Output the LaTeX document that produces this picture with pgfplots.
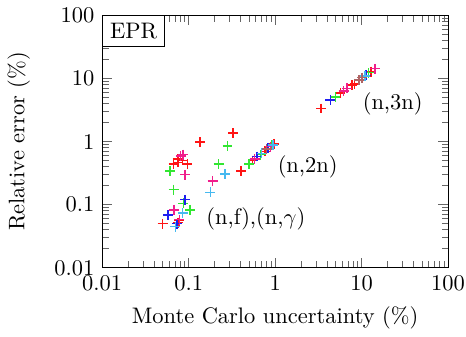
\documentclass[border=0pt]{standalone}
\usepackage{pgfplots}
\pgfplotsset{compat=1.18}
\definecolor{cred}{RGB}{255,20,20}
\definecolor{cgreen}{RGB}{50,230,50}
\definecolor{cblue}{RGB}{30,30,240}
\definecolor{cpink}{RGB}{240,30,140}
\definecolor{ccyan}{RGB}{70,185,240}
\definecolor{cbrown}{RGB}{175,100,100}
\begin{document}
\begin{tikzpicture}
\begin{axis}[
  scale only axis,
  width=154pt, height=112.5pt,
  xmode=log, ymode=log,
  xmin=0.01, xmax=100, ymin=0.01, ymax=100,
  xtick={0.01,0.1,1,10,100},
  ytick={0.01,0.1,1,10,100},
  xticklabels={0.01,0.1,1,10,100},
  yticklabels={0.01,0.1,1,10,100},
  every tick/.style={black!60},
  xlabel={Monte Carlo uncertainty (\%)},
  ylabel={Relative error (\%)},
  ylabel shift=4pt,
  clip=false,
  every axis plot/.append style={only marks, mark=+, mark size=2.2pt, line width=0.65pt},
]
% red
\addplot[cred] coordinates {
(0.050,0.050) (0.075,0.052) (0.078,0.056)
(0.0746,0.527) (0.067,0.44) (0.097,0.44) (0.075,0.47) (0.085,0.50)
(0.136,0.98) (0.327,1.36) (0.403,0.344)
(0.55,0.50) (0.76,0.70) (0.97,0.92)
(3.41,3.33) (5.69,5.82) (7.76,7.87) (8.3,8.2) (12.8,12.8)
};
% green
\addplot[cgreen] coordinates {
(0.061,0.344) (0.067,0.173) (0.087,0.105) (0.104,0.083)
(0.222,0.44) (0.281,0.855)
(0.499,0.44) (0.68,0.62) (0.92,0.88)
(5.0,5.08) (12.1,12.3)
};
% blue
\addplot[cblue] coordinates {
(0.058,0.069) (0.091,0.12) (0.073,0.050)
(0.62,0.58) (0.83,0.78)
(4.36,4.56) (11.3,11.2)
};
% pink
\addplot[cpink] coordinates {
(0.081,0.59) (0.086,0.62) (0.091,0.298) (0.068,0.083) (0.189,0.239) (0.078,0.058)
(0.58,0.53) (0.88,0.83)
(6.8,6.98) (6.2,6.3) (14.3,14.2)
};
% cyan
\addplot[ccyan] coordinates {
(0.178,0.157) (0.262,0.305) (0.085,0.074) (0.070,0.045)
(0.70,0.65) (0.95,0.88)
(11.0,10.9)
};
% brown
\addplot[cbrown] coordinates {
(0.80,0.76) (10.1,10.3) (9.3,9.5)
};
\node[anchor=west, inner sep=0pt] at (axis cs:10.2,3.9) {(n,3n)};
\node[anchor=west, inner sep=0pt] at (axis cs:1.06,0.395) {(n,2n)};
\node[anchor=west, inner sep=0pt] at (axis cs:0.158,0.0594) {(n,f),(n,$\gamma$)};
\node[draw, fill=white, anchor=north west] at (rel axis cs:0,1) {EPR};
\end{axis}
\pgfresetboundingbox
\coordinate (R) at ([xshift=8pt]current axis.east);
\path[use as bounding box] (current axis.outer south west) rectangle (R |- current axis.outer north);
\end{tikzpicture}
\end{document}
